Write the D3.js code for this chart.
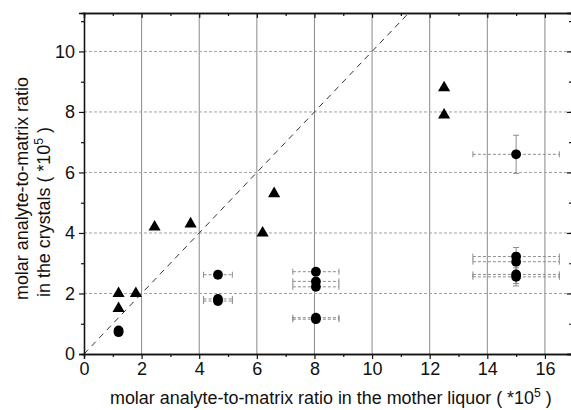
<!DOCTYPE html>
<html><head><meta charset="utf-8">
<script src="https://cdn.jsdelivr.net/npm/d3@7"></script>
<style>body{margin:0;background:#fff}svg{display:block}text{font-family:"Liberation Sans",Arial,sans-serif;fill:#111}</style>
</head><body><svg id="c" width="571" height="410"></svg>
<script>
const triX = [1.2, 1.2, 1.8, 2.45, 3.7, 6.2, 6.6, 12.5, 12.5];
const triY = [2.0, 1.5, 2.0, 4.2, 4.3, 4.0, 5.3, 8.8, 7.9];
const cirX = [1.2, 1.2, 4.65, 4.65, 4.65, 8.05, 8.05, 8.05, 8.05, 8.05, 15, 15, 15, 15, 15];
const cirY = [0.78, 0.72, 2.62, 1.82, 1.75, 2.72, 2.4, 2.22, 1.2, 1.15, 6.6, 3.22, 3.05, 2.63, 2.55];
const xErr = [0, 0, 0.5, 0.5, 0.5, 0.8, 0.8, 0.8, 0.8, 0.8, 1.5, 1.5, 1.5, 1.5, 1.5];
const yErr = [0, 0, 0.12, 0.12, 0.12, 0.1, 0.1, 0.1, 0.1, 0.1, 0.63, 0.3, 0.3, 0.3, 0.3];
const xTicks = [0, 2, 4, 6, 8, 10, 12, 14, 16];
const yTicks = [0, 2, 4, 6, 8, 10];
const xMinor = [1, 3, 5, 7, 9, 11, 13, 15];
const yMinor = [1, 3, 5, 7, 9, 11];
const xTitle = "molar analyte-to-matrix ratio in the mother liquor ( *10";
const yTitle1 = "molar analyte-to-matrix ratio";
const yTitle2 = "in the crystals ( *10";

const svg = d3.select("#c");
const L = 84, R = 572, T = 13, B = 354;
const x = d3.scaleLinear().domain([0, 16.94]).range([L, R]);
const y = d3.scaleLinear().domain([0, 11.27]).range([B, T]);

// gridlines
svg.append("g").selectAll("line").data(xTicks.slice(1)).join("line")
  .attr("x1", d => x(d)).attr("x2", d => x(d)).attr("y1", T).attr("y2", B)
  .attr("stroke", "#8a8a8a").attr("stroke-width", 1);
svg.append("g").selectAll("line").data(yTicks.slice(1)).join("line")
  .attr("x1", L).attr("x2", R).attr("y1", d => y(d)).attr("y2", d => y(d))
  .attr("stroke", "#a0a0a0").attr("stroke-width", 1).attr("stroke-dasharray", "3,2");

// diagonal
svg.append("line").attr("x1", x(0)).attr("y1", y(0)).attr("x2", x(11.27)).attr("y2", y(11.27))
  .attr("stroke", "#333").attr("stroke-width", 1).attr("stroke-dasharray", "6,5");

// axes
const bx = svg.append("g").attr("transform", `translate(0,${B})`)
  .call(d3.axisBottom(x).tickValues(xTicks).tickSize(5).tickPadding(3).tickFormat(d3.format("d")));
const bxm = svg.append("g").attr("transform", `translate(0,${B})`)
  .call(d3.axisBottom(x).tickValues(xMinor).tickSize(3).tickFormat(""));
const ly = svg.append("g").attr("transform", `translate(${L},0)`)
  .call(d3.axisLeft(y).tickValues(yTicks).tickSize(5).tickPadding(3).tickFormat(d3.format("d")));
const lym = svg.append("g").attr("transform", `translate(${L},0)`)
  .call(d3.axisLeft(y).tickValues(yMinor).tickSize(3).tickFormat(""));
const tx = svg.append("g").attr("transform", `translate(0,${T})`)
  .call(d3.axisBottom(x).tickValues(xTicks).tickSize(5).tickFormat(""));
const txm = svg.append("g").attr("transform", `translate(0,${T})`)
  .call(d3.axisBottom(x).tickValues(xMinor).tickSize(3).tickFormat(""));
const ry = svg.append("g").attr("transform", `translate(${R},0)`)
  .call(d3.axisLeft(y).tickValues(yTicks).tickSize(5).tickFormat(""));
const rym = svg.append("g").attr("transform", `translate(${R},0)`)
  .call(d3.axisLeft(y).tickValues(yMinor).tickSize(3).tickFormat(""));
[bx, bxm, ly, lym, tx, txm, ry, rym].forEach(g => {
  g.selectAll("path").attr("stroke", "#111").attr("stroke-width", 1.3);
  g.selectAll("line").attr("stroke", "#111").attr("stroke-width", 1.2);
  g.selectAll("text").attr("font-size", 18).attr("fill", "#222")
    .attr("font-family", "'Liberation Sans', Arial, sans-serif");
});
ly.selectAll(".tick text").attr("dx", -1);

// error bars
const eb = svg.append("g").attr("stroke", "#8c8c8c").attr("stroke-width", 1);
cirX.forEach((cx, i) => {
  if (xErr[i] > 0) {
    eb.append("line").attr("x1", x(cx - xErr[i])).attr("x2", x(cx + xErr[i]))
      .attr("y1", y(cirY[i])).attr("y2", y(cirY[i])).attr("stroke-dasharray", "3,2");
    [cx - xErr[i], cx + xErr[i]].forEach(v => eb.append("line")
      .attr("x1", x(v)).attr("x2", x(v)).attr("y1", y(cirY[i]) - 3).attr("y2", y(cirY[i]) + 3));
  }
  if (yErr[i] > 0) {
    eb.append("line").attr("x1", x(cx)).attr("x2", x(cx))
      .attr("y1", y(cirY[i] - yErr[i])).attr("y2", y(cirY[i] + yErr[i]));
    [cirY[i] - yErr[i], cirY[i] + yErr[i]].forEach(v => eb.append("line")
      .attr("x1", x(cx) - 3).attr("x2", x(cx) + 3).attr("y1", y(v)).attr("y2", y(v)));
  }
});

// markers
svg.append("g").selectAll("circle").data(cirX).join("circle")
  .attr("cx", d => x(d)).attr("cy", (d, i) => y(cirY[i])).attr("r", 4.9).attr("fill", "#000");
const tri = d3.symbol().type(d3.symbolTriangle).size(64);
svg.append("g").selectAll("path").data(triX).join("path")
  .attr("d", tri).attr("fill", "#000")
  .attr("transform", (d, i) => `translate(${x(d)},${y(triY[i])})`);

// titles (font size fitted so the first phrase spans ~223px as in the reference)
const probe = svg.append("text").attr("font-size", 20).text(yTitle1);
const fs = 20 * 223 / probe.node().getComputedTextLength();
probe.remove();

const xt = svg.append("text").attr("x", 110).attr("y", 404).attr("text-anchor", "start")
  .attr("font-size", fs).attr("fill", "#222");
xt.append("tspan").text(xTitle);
xt.append("tspan").attr("dy", -7).attr("font-size", fs * 0.68).text("5");
xt.append("tspan").attr("dy", 7).text(" )");

const yt = svg.append("g").attr("transform", "translate(28,300) rotate(-90)");
yt.append("text").attr("text-anchor", "start").attr("font-size", fs).attr("fill", "#222").text(yTitle1);
const yt2 = yt.append("text").attr("x", 3).attr("y", 22).attr("text-anchor", "start").attr("font-size", fs).attr("fill", "#222");
yt2.append("tspan").text(yTitle2);
yt2.append("tspan").attr("dy", -7).attr("font-size", fs * 0.68).text("5");
yt2.append("tspan").attr("dy", 7).text(" )");
</script></body></html>
